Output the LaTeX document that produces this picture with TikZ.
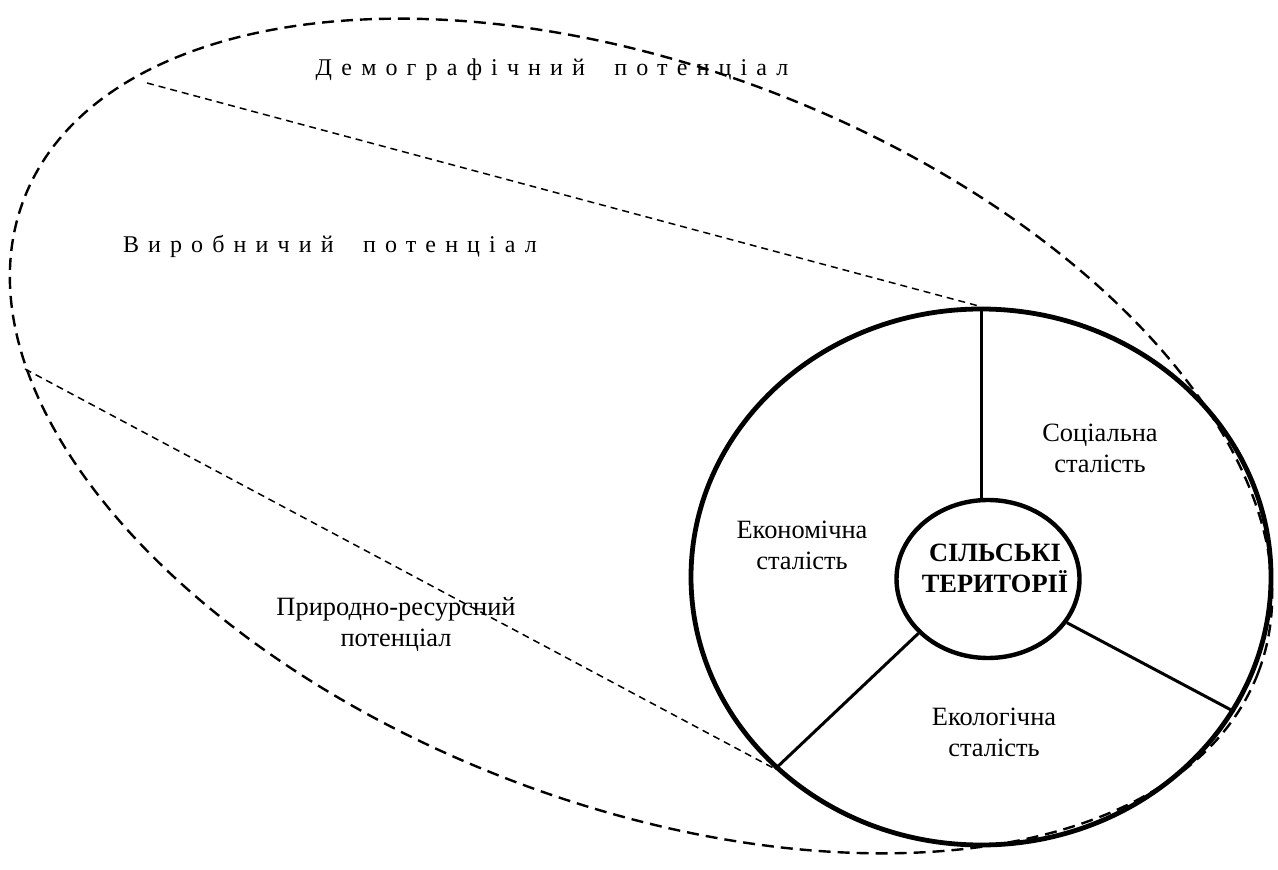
\documentclass[tikz,border=0pt]{standalone}
\usepackage{fontspec}
\setmainfont{Liberation Serif}
\newfontfamily\razfont[LetterSpace=38]{Liberation Serif}
\usepackage{tikz}
\usetikzlibrary{shapes.geometric}
\usetikzlibrary{positioning}
\tikzset{
    potential/.style={
      ellipse,
           draw=black, line width=1.2pt,
           dash pattern=on 6pt off 3.5pt,
           inner sep=0pt,
           minimum width=661pt,
           minimum height=368pt,
           },
}
\tikzset{
    potline/.style={
           draw=black, line width=0.75pt,
           dash pattern=on 3.5pt off 2.5pt,
           },
}
\tikzset{
    territory/.style={
      ellipse,
           draw=black, line width=2.4pt,
           inner sep=0pt,
           minimum width=290pt,
           minimum height=268pt,
           },
}
\tikzset{
    rural/.style={
      ellipse,
           draw=black, line width=2.2pt,
           inner sep=0pt,
           minimum width=91.5pt,
           minimum height=79pt,
           },
}
\tikzset{
    stability/.style={
           align=center,
           inner sep=0pt,
           font=\fontsize{13.2}{15.5}\selectfont,
           },
}
\tikzset{
    spaced/.style={
           inner sep=0pt,
           font=\fontsize{12}{14}\razfont,
           },
}
\tikzset{
    segment/.style={
           draw=black, line width=1.5pt,
           },
}

\begin{document}
\begin{tikzpicture}[x=0.5pt,y=-0.5pt]

\useasboundingbox (0,0) rectangle (1278,870);

% potentials
\node[potential,rotate=-21](pot) at (641,436){};

\coordinate (dem) at (147,83);
\coordinate (vyr) at (25,369);

\node[spaced](demt) at (552,70){Демографічний\hspace{0.6em} потенціал};
\node[spaced](vyrt) at (330,246){Виробничий\hspace{0.6em} потенціал};
\node[stability](prir) at (396,625){Природно-ресурсний\\потенціал};

% territories
\node[territory](ter) at (981,577){};
\node[rural](sil) at (988,579){};
\node[stability,font=\fontsize{13.2}{15.5}\selectfont\bfseries](silt) at (995,568){СІЛЬСЬКІ\\ТЕРИТОРІЇ};

\path (ter.north) edge[segment](ter.north |- sil.north);
\path (sil.-29) edge[segment](ter.-28);
\path (sil.-142) edge[segment](ter.-137);

\path (dem) edge[potline](ter.north);
\path (vyr) edge[potline](ter.-137);

\node[stability](soc) at (1100,448){Соціальна\\сталість};
\node[stability](eco) at (802,545){Економічна\\сталість};
\node[stability](ekol) at (994,732){Екологічна\\сталість};

\end{tikzpicture}
\end{document}
